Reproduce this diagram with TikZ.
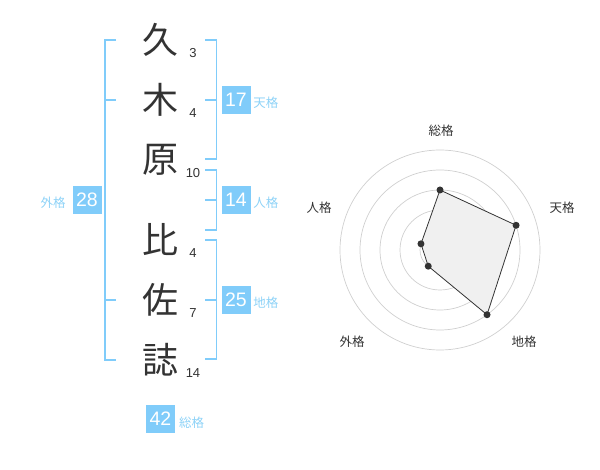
\documentclass[tikz,border=0pt]{standalone}
\usepackage{fontspec}
\setmainfont{Liberation Sans}
\newfontfamily\jp{Noto Sans CJK JP}
\definecolor{brk}{HTML}{80CCFA}
\definecolor{boxc}{HTML}{80CCFA}
\definecolor{lbl}{HTML}{8DD2F7}
\definecolor{ink}{HTML}{333333}
\definecolor{ring}{HTML}{CFCFCF}
\begin{document}
\begin{tikzpicture}[x=1pt,y=-1pt,
  bigchar/.style={font=\jp\fontsize{36}{36}\selectfont, text=ink, inner sep=0pt},
  strk/.style={font=\fontsize{13}{13}\selectfont, text=ink, inner sep=0pt},
  numbox/.style={fill=boxc, text=white, minimum width=29pt, minimum height=28.5pt, inner sep=0pt, font=\fontsize{19.5}{19.5}\selectfont},
  kaku/.style={font=\jp\fontsize{12.5}{12.5}\selectfont, text=lbl, inner sep=0pt},
  rlbl/.style={font=\jp\fontsize{12.5}{12.5}\selectfont, text=ink, inner sep=0pt},
  bracket/.style={draw=brk, line width=1.5pt},
  ringline/.style={draw=ring, line width=0.7pt},
  dot/.style={circle, fill=ink, inner sep=0pt, minimum size=7pt}
]
\useasboundingbox (0,0) rectangle (600,470);
% characters
\node[bigchar] (c1) at (160,40) {久};
\node[bigchar] (c2) at (160,100) {木};
\node[bigchar] (c3) at (160,160) {原};
\node[bigchar] (c4) at (160,240) {比};
\node[bigchar] (c5) at (160,300) {佐};
\node[bigchar] (c6) at (160,360) {誌};
% strokes
\node[strk] (s1) at (193,52.7) {3};
\node[strk] (s2) at (193,112.7) {4};
\node[strk] (s3) at (193,172.7) {10};
\node[strk] (s4) at (193,252.7) {4};
\node[strk] (s5) at (193,312.7) {7};
\node[strk] (s6) at (193,372.7) {14};
% brackets
\draw[bracket] (116,40) -- (105,40) -- (105,360) -- (116,360);
\draw[bracket] (105,100) -- (116,100);
\draw[bracket] (105,300) -- (116,300);
\draw[bracket] (205,40) -- (216.5,40) -- (216.5,159) -- (205,159);
\draw[bracket] (205,100) -- (216.5,100);
\draw[bracket] (205,170) -- (216.5,170) -- (216.5,230) -- (205,230);
\draw[bracket] (205,200) -- (216.5,200);
\draw[bracket] (205,240) -- (216.5,240) -- (216.5,359) -- (205,359);
\draw[bracket] (205,300) -- (216.5,300);
% boxes
\node[numbox] (b17) at (236,100) {17};
\node[kaku] (l17) at (265.8,103) {天格};
\node[numbox] (b14) at (236,200) {14};
\node[kaku] (l14) at (265.8,203) {人格};
\node[numbox] (b25) at (236,300) {25};
\node[kaku] (l25) at (265.8,303) {地格};
\node[numbox] (b28) at (87,200) {28};
\node[kaku] (l28) at (53,203) {外格};
\node[numbox] (b42) at (160.5,419) {42};
\node[kaku] (l42) at (191.5,423) {総格};
% radar
\coordinate (ctr) at (440,250);
\foreach \r in {20,40,60,80,100} \draw[ringline] (ctr) circle (\r);
\fill[ring] (ctr) circle (4);
\path (ctr) ++(-90:60) coordinate (pSo);
\path (ctr) ++(-18:80) coordinate (pTe);
\path (ctr) ++(54:80) coordinate (pCh);
\path (ctr) ++(126:20) coordinate (pGa);
\path (ctr) ++(198:20) coordinate (pJi);
\filldraw[fill=black!6, draw=ink, line width=0.8pt] (pSo) -- (pTe) -- (pCh) -- (pGa) -- (pJi) -- cycle;
\foreach \p in {pSo,pTe,pCh,pGa,pJi} \node[dot] at (\p) {};
\node[rlbl] (rSo) at (441,131) {総格};
\node[rlbl] (rTe) at (562,208) {天格};
\node[rlbl] (rCh) at (524,342) {地格};
\node[rlbl] (rGa) at (352,342) {外格};
\node[rlbl] (rJi) at (319,208) {人格};
\end{tikzpicture}
\end{document}
